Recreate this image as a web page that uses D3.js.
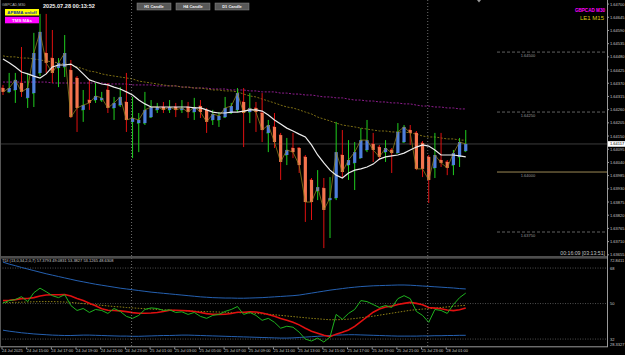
<!DOCTYPE html>
<meta charset="utf-8">
<style>
body{margin:0;background:#000;}
svg{display:block;font-family:"Liberation Sans",Arial,sans-serif;}
</style>
<div id="chart"></div>
<script src="https://d3js.org/d3.v7.min.js"></script>
<script>
// ---- data ----
var opens  = [1.64350,1.64334,1.64342,1.64371,1.64309,1.64329,1.64413,1.64496,1.64475,1.64434,1.64438,1.64425,1.64392,1.64259,1.64300,1.64300,1.64300,1.64342,1.64267,1.64279,1.64292,1.64209,1.64204,1.64204,1.64229,1.64259,1.64271,1.64259,1.64271,1.64259,1.64271,1.64250,1.64275,1.64259,1.64217,1.64217,1.64229,1.64246,1.64259,1.64292,1.64250,1.64267,1.64246,1.64163,1.64188,1.64154,1.64071,1.64100,1.64100,1.64063,1.63967,1.63921,1.63933,1.63883,1.63892,1.64071,1.64029,1.64038,1.64058,1.64092,1.64117,1.64104,1.64083,1.64092,1.64079,1.64125,1.64175,1.64163,1.64121,1.64063,1.64017,1.64050,1.64042,1.64029,1.64063,1.64088];
var highs  = [1.64363,1.64413,1.64413,1.64521,1.64413,1.64580,1.64659,1.64659,1.64592,1.64475,1.64571,1.64467,1.64400,1.64342,1.64384,1.64371,1.64334,1.64371,1.64313,1.64354,1.64413,1.64313,1.64246,1.64334,1.64300,1.64288,1.64292,1.64300,1.64288,1.64300,1.64292,1.64309,1.64300,1.64267,1.64259,1.64250,1.64313,1.64288,1.64350,1.64350,1.64329,1.64292,1.64329,1.64217,1.64246,1.64163,1.64142,1.64163,1.64104,1.64071,1.63975,1.64008,1.63975,1.63979,1.64209,1.64175,1.64133,1.64125,1.64183,1.64217,1.64163,1.64113,1.64133,1.64100,1.64204,1.64196,1.64196,1.64171,1.64129,1.64071,1.64163,1.64163,1.64050,1.64092,1.64142,1.64175];
var lows   = [1.64321,1.64329,1.64288,1.64313,1.64267,1.64271,1.64400,1.64413,1.64371,1.64354,1.64396,1.64225,1.64167,1.64209,1.64259,1.64288,1.64292,1.64246,1.64217,1.64271,1.64167,1.64058,1.64083,1.64196,1.64225,1.64246,1.64246,1.64246,1.64229,1.64246,1.64225,1.64217,1.64225,1.64163,1.64196,1.64188,1.64225,1.64242,1.64250,1.64104,1.64204,1.64167,1.64125,1.64083,1.64100,1.63967,1.64029,1.64058,1.63996,1.63792,1.63800,1.63883,1.63683,1.63725,1.63883,1.63979,1.63967,1.63925,1.64058,1.64083,1.64042,1.64050,1.64042,1.63996,1.64079,1.64121,1.64113,1.64008,1.63979,1.63871,1.63975,1.64021,1.63987,1.63987,1.64021,1.64083];
var closes = [1.64334,1.64350,1.64384,1.64334,1.64350,1.64496,1.64584,1.64455,1.64413,1.64455,1.64496,1.64229,1.64267,1.64279,1.64288,1.64317,1.64309,1.64267,1.64288,1.64313,1.64217,1.64225,1.64217,1.64259,1.64271,1.64271,1.64259,1.64271,1.64259,1.64267,1.64250,1.64271,1.64250,1.64209,1.64242,1.64234,1.64267,1.64275,1.64329,1.64246,1.64267,1.64250,1.64175,1.64196,1.64125,1.64042,1.64092,1.64083,1.64029,1.63875,1.63875,1.63937,1.63842,1.63892,1.64083,1.64000,1.64050,1.64083,1.64133,1.64133,1.64092,1.64063,1.64100,1.64079,1.64167,1.64188,1.64163,1.64013,1.64013,1.63967,1.64071,1.64038,1.64017,1.64079,1.64125,1.64117];

var maFast = [1.64471,1.64455,1.64438,1.64417,1.64409,1.64400,1.64392,1.64409,1.64438,1.64446,1.64446,1.64450,1.64434,1.64409,1.64384,1.64375,1.64367,1.64363,1.64354,1.64346,1.64334,1.64321,1.64300,1.64284,1.64271,1.64271,1.64271,1.64271,1.64271,1.64271,1.64271,1.64267,1.64267,1.64259,1.64250,1.64246,1.64246,1.64250,1.64250,1.64254,1.64259,1.64259,1.64254,1.64238,1.64217,1.64200,1.64183,1.64171,1.64158,1.64146,1.64113,1.64071,1.64038,1.64008,1.63987,1.63975,1.63996,1.64008,1.64013,1.64021,1.64033,1.64054,1.64063,1.64067,1.64071,1.64079,1.64092,1.64104,1.64113,1.64108,1.64092,1.64071,1.64071,1.64071,1.64067,1.64063];
var maSlow = [1.64484,1.64480,1.64480,1.64475,1.64475,1.64471,1.64467,1.64463,1.64459,1.64455,1.64450,1.64446,1.64438,1.64430,1.64421,1.64417,1.64409,1.64404,1.64400,1.64396,1.64392,1.64388,1.64379,1.64375,1.64371,1.64367,1.64363,1.64359,1.64359,1.64354,1.64354,1.64350,1.64350,1.64346,1.64342,1.64342,1.64338,1.64338,1.64334,1.64325,1.64317,1.64313,1.64304,1.64296,1.64288,1.64279,1.64271,1.64267,1.64259,1.64250,1.64242,1.64229,1.64221,1.64213,1.64204,1.64196,1.64192,1.64188,1.64183,1.64179,1.64175,1.64171,1.64171,1.64167,1.64167,1.64167,1.64163,1.64158,1.64150,1.64146,1.64146,1.64142,1.64138,1.64138,1.64133,1.64133];
var maLong = [1.64375,1.64375,1.64375,1.64375,1.64375,1.64375,1.64375,1.64375,1.64371,1.64371,1.64371,1.64371,1.64371,1.64371,1.64371,1.64371,1.64371,1.64367,1.64367,1.64367,1.64367,1.64363,1.64363,1.64363,1.64363,1.64359,1.64359,1.64359,1.64359,1.64354,1.64354,1.64350,1.64350,1.64350,1.64346,1.64346,1.64346,1.64342,1.64342,1.64342,1.64338,1.64338,1.64334,1.64334,1.64334,1.64329,1.64329,1.64325,1.64325,1.64321,1.64321,1.64317,1.64313,1.64313,1.64309,1.64309,1.64304,1.64300,1.64300,1.64296,1.64296,1.64292,1.64292,1.64288,1.64288,1.64284,1.64284,1.64279,1.64275,1.64275,1.64271,1.64271,1.64267,1.64267,1.64263,1.64263];

// TDI sub-window
var tdiUpper = [71.0,70.0,69.2,68.3,67.5,66.7,65.9,65.1,64.4,63.7,63.0,62.3,61.6,61.0,60.4,59.8,59.3,58.8,58.3,57.8,57.4,57.0,56.6,56.2,55.8,55.5,55.2,54.9,54.6,54.3,54.0,53.7,53.4,53.2,53.0,52.9,52.8,52.8,52.7,52.7,52.8,52.9,53.0,53.2,53.4,53.6,53.8,54.0,54.3,54.8,55.3,55.8,56.3,56.8,57.2,57.6,58.0,58.3,58.6,58.8,59.0,59.1,59.2,59.3,59.4,59.4,59.3,59.1,58.9,58.7,58.5,58.3,58.1,57.9,57.6,57.4];
var tdiLower = [36.5,36.0,35.6,35.2,34.9,34.6,34.4,34.2,34.0,33.9,33.8,33.8,33.9,34.0,34.0,33.9,33.8,33.7,33.6,33.5,33.5,33.4,33.4,33.5,33.6,33.7,33.8,33.8,33.9,34.0,34.0,33.9,33.8,33.7,33.6,33.5,33.4,33.3,33.2,33.1,33.0,32.9,32.8,32.7,32.6,32.5,32.5,32.6,32.8,33.0,33.2,33.4,33.6,33.8,34.0,34.1,34.2,34.2,34.1,34.0,33.9,33.8,33.7,33.6,33.5,33.5,33.5,33.5,33.6,33.6,33.7,33.7,33.8,33.8,33.9,33.9];
var tdiRsi = [50.3,51.5,52.0,53.5,51.0,55.5,57.8,56.0,54.0,53.0,54.5,49.0,46.5,47.5,45.5,47.0,46.5,45.0,47.5,46.0,43.5,42.5,44.0,47.0,47.8,47.5,46.5,46.8,45.5,45.8,44.5,45.5,43.5,42.5,44.0,44.5,46.0,47.0,48.5,44.5,45.5,44.0,41.5,42.5,40.5,37.5,38.5,38.0,35.5,32.0,31.0,32.5,30.5,33.0,44.5,42.0,45.0,47.0,51.5,51.0,49.5,48.0,49.0,48.0,52.5,54.0,52.5,46.0,44.0,40.5,47.0,46.5,45.0,49.5,53.0,55.3];
var tdiSignal = [51.5,51.7,52.0,52.5,52.6,53.0,53.8,54.3,54.5,54.5,54.6,53.8,52.6,51.5,50.2,48.9,47.4,46.6,46.5,46.3,45.9,45.4,45.1,45.1,45.2,45.5,46.0,46.6,46.6,46.5,46.3,46.0,45.5,44.9,44.6,44.5,44.6,45.0,45.6,45.6,45.8,45.7,45.2,44.5,43.6,42.4,41.5,40.5,39.2,37.5,36.0,35.0,33.9,33.2,34.5,35.4,36.6,38.4,40.8,43.2,45.6,47.2,48.3,48.7,49.5,50.1,50.6,50.1,49.4,48.0,47.7,47.4,46.7,46.4,46.9,47.8];
var tdiBase = [50.5,50.5,50.6,50.7,50.8,50.9,51.0,51.0,51.0,50.9,50.8,50.6,50.3,50.0,49.7,49.4,49.1,48.8,48.5,48.3,48.0,47.8,47.6,47.4,47.2,47.0,46.8,46.7,46.5,46.4,46.3,46.1,46.0,45.9,45.8,45.7,45.6,45.5,45.4,45.3,45.2,45.0,44.8,44.6,44.3,44.0,43.7,43.4,43.1,42.8,42.5,42.3,42.0,41.8,41.8,41.9,42.1,42.4,42.8,43.2,43.6,44.1,44.6,45.1,45.6,46.1,46.6,46.9,47.2,47.4,47.7,48.0,48.3,48.6,48.9,49.1];
var tdiLevels = [68, 50, 32];
var tdiRange = [28.3327, 72.8411];

var priceTicks = [1.64700,1.64645,1.64590,1.64535,1.64480,1.64425,1.64370,1.64315,1.64260,1.64205,1.64150,1.64095,1.64040,1.63985,1.63930,1.63875,1.63820,1.63765,1.63710,1.63655];
var priceRange = [1.6365, 1.64717];
var levelLines = [1.64500, 1.64250, 1.64000, 1.63750];
var bidPrice = 1.64117;

var timeLabels = ["24 Jul 2025","24 Jul 15:00","24 Jul 17:00","24 Jul 19:00","24 Jul 21:00","24 Jul 23:00","25 Jul 01:00","25 Jul 03:00","25 Jul 05:00","25 Jul 07:00","25 Jul 09:00","25 Jul 11:00","25 Jul 13:00","25 Jul 15:00","25 Jul 17:00","25 Jul 19:00","25 Jul 21:00","25 Jul 23:00","28 Jul 01:00"];
var labelBars = [0,4,8,12,16,20,24,28,32,36,40,44,48,52,56,60,64,68,72];
var daySeparators = [21, 69];
var buttons = ["H1 Candle","H4 Candle","D1 Candle"];

// ---- layout ----
var W = 625, H = 355;
var plotRight = 607, mainTop = 0, mainBottom = 256, subTop = 258.5, subBottom = 346.3;

var svg = d3.select("#chart").append("svg").attr("width", W).attr("height", H)
  .style("background", "#000");

var x = d3.scaleLinear().domain([0, closes.length - 1]).range([3, 465.75]);
var y = d3.scaleLinear().domain(priceRange).range([mainBottom, mainTop]);
var ys = d3.scaleLinear().domain(tdiRange).range([subBottom, subTop]);

svg.append("clipPath").attr("id", "clipMain").append("rect")
  .attr("x", 0).attr("y", 0).attr("width", plotRight).attr("height", mainBottom);
svg.append("clipPath").attr("id", "clipSub").append("rect")
  .attr("x", 0).attr("y", subTop).attr("width", plotRight).attr("height", subBottom - subTop);

var main = svg.append("g").attr("clip-path", "url(#clipMain)");
var sub = svg.append("g").attr("clip-path", "url(#clipSub)");

// separators
daySeparators.forEach(function(i) {
  svg.append("line").attr("x1", x(i) - 1).attr("x2", x(i) - 1).attr("y1", 0).attr("y2", subBottom)
    .attr("stroke", "#8a8a8a").attr("stroke-width", 0.8).attr("stroke-dasharray", "1,2");
});

// bid line
main.append("line").attr("x1", 0).attr("x2", plotRight).attr("y1", y(bidPrice)).attr("y2", y(bidPrice))
  .attr("stroke", "#3c3c3c").attr("stroke-width", 1);

// level lines
levelLines.forEach(function(p) {
  var solid = p === 1.64;
  main.append("line").attr("x1", 497).attr("x2", plotRight).attr("y1", y(p)).attr("y2", y(p))
    .attr("stroke", solid ? "#9c8a55" : "#8c8c8c").attr("stroke-width", solid ? 1 : 0.7)
    .attr("stroke-dasharray", solid ? null : "3,2");
  main.append("text").attr("x", 528).attr("y", y(p) + 5).attr("text-anchor", "middle")
    .attr("fill", "#9a9a9a").attr("font-size", "4px").text(p.toFixed(5));
});

// moving averages
var lineOf = function(arr) {
  return d3.line().x(function(d, i) { return x(i); }).y(function(d) { return y(d); })(arr);
};
main.append("path").attr("d", lineOf(maLong)).attr("fill", "none")
  .attr("stroke", "#8e1d8e").attr("stroke-width", 1).attr("stroke-dasharray", "2,1.5");
main.append("path").attr("d", lineOf(maSlow)).attr("fill", "none")
  .attr("stroke", "#7d6e14").attr("stroke-width", 1).attr("stroke-dasharray", "2,1.5");

// candles
var bars = main.selectAll("g.bar").data(closes).enter().append("g").attr("class", "bar");
bars.append("line")
  .attr("x1", function(d, i) { return x(i); }).attr("x2", function(d, i) { return x(i); })
  .attr("y1", function(d, i) { return y(highs[i]); }).attr("y2", function(d, i) { return y(lows[i]); })
  .attr("stroke", function(d, i) { return d >= opens[i] ? "#1fcf1f" : "#e01010"; }).attr("stroke-width", 1);
bars.append("line")
  .attr("x1", function(d, i) { return x(i) - 1.8; }).attr("x2", function(d, i) { return x(i); })
  .attr("y1", function(d, i) { return y(opens[i]); }).attr("y2", function(d, i) { return y(opens[i]); })
  .attr("stroke", function(d, i) { return d >= opens[i] ? "#1fcf1f" : "#e01010"; }).attr("stroke-width", 1);
bars.append("rect")
  .attr("x", function(d, i) { return x(i) - 1.6; }).attr("width", 3.2)
  .attr("y", function(d, i) { return y(Math.max(d, opens[i])); })
  .attr("height", function(d, i) { return Math.max(1, Math.abs(y(d) - y(opens[i]))); })
  .attr("fill", function(d, i) { return d >= opens[i] ? "#4f7fdc" : "#f4734e"; });

// close connector
main.append("path").attr("d", lineOf(closes)).attr("fill", "none")
  .attr("stroke", "#9a8a1e").attr("stroke-width", 0.8).attr("opacity", 0.9);
main.append("path").attr("d", lineOf(maFast)).attr("fill", "none")
  .attr("stroke", "#ececec").attr("stroke-width", 1.2);

// frame & panel separators
svg.append("line").attr("x1", 0).attr("x2", plotRight).attr("y1", 257).attr("y2", 257).attr("stroke", "#9a9a9a").attr("stroke-width", 1);
svg.append("line").attr("x1", 0).attr("x2", plotRight).attr("y1", 258.3).attr("y2", 258.3).attr("stroke", "#555").attr("stroke-width", 0.8);
svg.append("line").attr("x1", 0).attr("x2", plotRight).attr("y1", subBottom + 0.5).attr("y2", subBottom + 0.5).attr("stroke", "#9a9a9a").attr("stroke-width", 1);
svg.append("line").attr("x1", plotRight + 0.5).attr("x2", plotRight + 0.5).attr("y1", 0).attr("y2", subBottom + 1).attr("stroke", "#9a9a9a").attr("stroke-width", 1);
svg.append("line").attr("x1", 0.5).attr("x2", 0.5).attr("y1", 0).attr("y2", subBottom).attr("stroke", "#555").attr("stroke-width", 1);

// right price axis
priceTicks.forEach(function(p) {
  svg.append("line").attr("x1", plotRight).attr("x2", plotRight + 2).attr("y1", y(p)).attr("y2", y(p)).attr("stroke", "#9a9a9a");
  svg.append("text").attr("x", 610).attr("y", y(p) + 1.5).attr("fill", "#c8c8c8").attr("font-size", "4px").text(p.toFixed(5));
});
svg.append("rect").attr("x", 608).attr("y", y(bidPrice) - 2.8).attr("width", 17).attr("height", 5.6).attr("fill", "#fff");
svg.append("text").attr("x", 610).attr("y", y(bidPrice) + 1.5).attr("fill", "#000").attr("font-size", "4px").text(bidPrice.toFixed(5));

// TDI panel
tdiLevels.forEach(function(v) {
  sub.append("line").attr("x1", 0).attr("x2", plotRight).attr("y1", ys(v)).attr("y2", ys(v))
    .attr("stroke", "#707070").attr("stroke-width", 0.7).attr("stroke-dasharray", "1,1.5");
  svg.append("text").attr("x", 610).attr("y", ys(v) + 1.5).attr("fill", "#c8c8c8").attr("font-size", "4px").text(v);
});
svg.append("text").attr("x", 610).attr("y", subTop + 3.5).attr("fill", "#c8c8c8").attr("font-size", "4px").text(tdiRange[1].toFixed(4));
svg.append("text").attr("x", 610).attr("y", subBottom - 0.5).attr("fill", "#c8c8c8").attr("font-size", "4px").text(tdiRange[0].toFixed(4));

var subLine = function(arr) {
  return d3.line().x(function(d, i) { return x(i); }).y(function(d) { return ys(d); })(arr);
};
sub.append("path").attr("d", subLine(tdiUpper)).attr("fill", "none").attr("stroke", "#2560b0").attr("stroke-width", 1);
sub.append("path").attr("d", subLine(tdiLower)).attr("fill", "none").attr("stroke", "#2560b0").attr("stroke-width", 1);
sub.append("path").attr("d", subLine(tdiBase)).attr("fill", "none").attr("stroke", "#b4a21c").attr("stroke-width", 0.8).attr("stroke-dasharray", "1.5,1.5");
sub.append("path").attr("d", subLine(tdiSignal)).attr("fill", "none").attr("stroke", "#e01010").attr("stroke-width", 1.6);
sub.append("path").attr("d", subLine(tdiRsi)).attr("fill", "none").attr("stroke", "#1fb21f").attr("stroke-width", 1);

svg.append("text").attr("x", 2).attr("y", 262).attr("fill", "#c8c8c8").attr("font-size", "4px")
  .text("TDI (13,0,34,2,0,7) 57.3793 49.0831 53.3827 53.1265 48.6308");

// time axis
labelBars.forEach(function(b, k) {
  svg.append("line").attr("x1", x(b) - 1).attr("x2", x(b) - 1).attr("y1", subBottom + 1).attr("y2", subBottom + 3).attr("stroke", "#9a9a9a");
  svg.append("text").attr("x", x(b) - 1).attr("y", 351.5).attr("fill", "#c8c8c8").attr("font-size", "4px").text(timeLabels[k]);
});

// top-left decorations
svg.append("text").attr("x", 2).attr("y", 6).attr("fill", "#bbb").attr("font-size", "3.6px").text("GBPCAD,M30");
svg.append("rect").attr("x", 5).attr("y", 9).attr("width", 34).attr("height", 6.5).attr("fill", "#ffff00");
svg.append("text").attr("x", 22).attr("y", 14).attr("text-anchor", "middle").attr("fill", "#1030a0")
  .attr("font-size", "4.4px").attr("font-weight", "bold").text("APBMA on/off");
svg.append("rect").attr("x", 5).attr("y", 16.8).attr("width", 34).attr("height", 6.5).attr("fill", "#ff00ff");
svg.append("text").attr("x", 22).attr("y", 21.8).attr("text-anchor", "middle").attr("fill", "#ffe0ff")
  .attr("font-size", "4.4px").attr("font-weight", "bold").text("TMS MAs");
svg.append("text").attr("x", 43).attr("y", 8).attr("fill", "#f0f0f0").attr("font-size", "5.6px")
  .attr("font-weight", "bold").text("2025.07.28 00:13:52");

buttons.forEach(function(b, k) {
  var bx = 137 + k * 39;
  svg.append("rect").attr("x", bx).attr("y", 3).attr("width", 34).attr("height", 7)
    .attr("fill", "#585858").attr("stroke", "#8a8a8a").attr("stroke-width", 0.5);
  svg.append("text").attr("x", bx + 17).attr("y", 8).attr("text-anchor", "middle").attr("fill", "#f0f0f0")
    .attr("font-size", "4px").attr("font-weight", "bold").text(b);
});

// top-right labels
svg.append("text").attr("x", 605).attr("y", 12).attr("text-anchor", "end").attr("fill", "#ff00ff")
  .attr("font-size", "4.6px").attr("font-weight", "bold").text("GBPCAD M30");
svg.append("text").attr("x", 604).attr("y", 20).attr("text-anchor", "end").attr("fill", "#d8cc10")
  .attr("font-size", "6px").text("LE1 M15");
svg.append("path").attr("d", "M477,0 L481,0 L479,2.5 Z").attr("fill", "#9a9a9a");

// countdown
svg.append("text").attr("x", 605).attr("y", 255).attr("text-anchor", "end").attr("fill", "#c0c0c0")
  .attr("font-size", "5.2px").text("00:16:09 [03:13:51]");
</script>
